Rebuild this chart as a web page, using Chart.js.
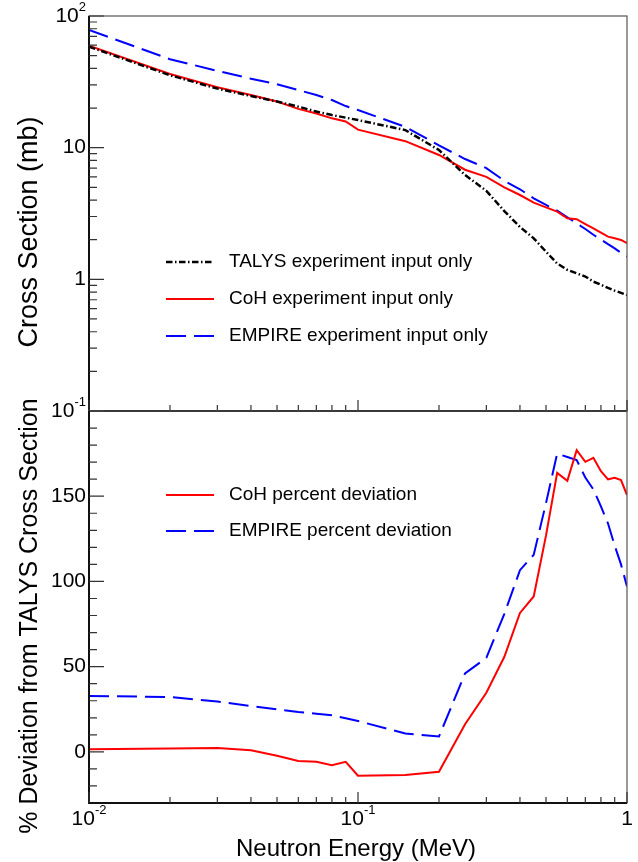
<!DOCTYPE html>
<html>
<head>
<meta charset="utf-8">
<script src="https://cdn.jsdelivr.net/npm/chart.js@4.4.1/dist/chart.umd.min.js"></script>
<style>
  body { margin: 0; background: #fff; }
  #wrap { position: relative; width: 638px; height: 862px; }
  #wrap canvas { position: absolute; left: 0; top: 0; }
</style>
</head>
<body>
<div id="wrap">
  <canvas id="xsec" width="638" height="862"></canvas>
  <canvas id="dev" width="638" height="862"></canvas>
</div>
<script>
// neutron energy grid (MeV)
const energy = [0.01, 0.02, 0.03, 0.04, 0.05, 0.06, 0.07, 0.08, 0.09, 0.1,
  0.15, 0.2, 0.25, 0.3, 0.35, 0.4, 0.45, 0.5, 0.55, 0.6,
  0.65, 0.7, 0.75, 0.8, 0.85, 0.9, 0.95, 1.0];

// cross sections (mb)
const talysXS = [58.5, 35.5, 28.1, 24.7, 22.4, 20.5, 18.8, 17.7, 16.9, 16.2,
  13.6, 9.6, 6.2, 4.7, 3.3, 2.5, 2.05, 1.62, 1.32, 1.18,
  1.11, 1.05, 0.96, 0.91, 0.86, 0.82, 0.79, 0.76];
const cohXS = [59.6, 36.3, 28.8, 25.1, 22.4, 19.7, 18.2, 16.7, 15.8, 13.7,
  11.2, 8.8, 6.8, 6.0, 5.0, 4.37, 3.82, 3.52, 3.27, 2.91,
  2.86, 2.63, 2.44, 2.26, 2.11, 2.05, 1.99, 1.88];
const empireXS = [78.3, 47.0, 38.3, 33.4, 30.3, 27.4, 25.1, 23.0, 20.7, 19.3,
  14.4, 10.4, 8.2, 7.0, 5.6, 4.83, 4.12, 3.67, 3.32, 2.96,
  2.66, 2.41, 2.18, 2.01, 1.85, 1.72, 1.59, 1.49];

// % deviation from TALYS
const cohDev = [1.6, 2.0, 2.2, 1.0, -2.3, -5.3, -5.8, -7.8, -5.8, -14.0,
  -13.6, -11.7, 16.2, 34.7, 55.8, 81.5, 91.2, 127, 163.7, 159.1,
  177.0, 170.2, 172.5, 164.7, 159.9, 160.8, 159.5, 150.7];
const empireDev = [32.8, 32.2, 29.5, 26.9, 25.0, 23.4, 22.4, 21.5, 19.7, 18.1,
  10.8, 9.0, 46.0, 55.2, 81, 106.6, 115.6, 146, 175, 173,
  171.2, 161, 154, 144, 134, 121, 110, 97];

// axis ticks and labels ([base, exponent])
const xTicks = [0.01, 0.1, 1];
const xTickLabels = [['10', '-2'], ['10', '-1'], ['1', '']];
const xsTicks = [0.1, 1, 10, 100];
const xsTickLabels = [['10', '-1'], ['1', ''], ['10', ''], ['10', '2']];
const devTicks = [0, 50, 100, 150];
const devTickLabels = [['0', ''], ['50', ''], ['100', ''], ['150', '']];

const FONT = '"Liberation Sans", Arial, Helvetica, sans-serif';

function pts(ys) {
  return energy.map((e, i) => ({ x: e, y: ys[i] }));
}

function powLabel(ctx, lab, x, y, align) {
  ctx.font = '21px ' + FONT;
  const wb = ctx.measureText(lab[0]).width;
  ctx.font = '13px ' + FONT;
  const we = lab[1] ? ctx.measureText(lab[1]).width : 0;
  const x0 = align === 'right' ? x - wb - we : x - (wb + we) / 2;
  ctx.textAlign = 'left';
  ctx.textBaseline = 'middle';
  ctx.font = '21px ' + FONT;
  ctx.fillText(lab[0], x0, y);
  if (lab[1]) {
    ctx.font = '13px ' + FONT;
    ctx.fillText(lab[1], x0 + wb, y - 9);
  }
}

function logMinors(lo, hi) {
  const out = [];
  for (let d = lo; d < hi * 0.999; d *= 10) {
    for (let m = 2; m <= 9; m++) out.push(d * m);
  }
  return out;
}

// ROOT-like frame: inward ticks, labels, titles and legend
const rootFrame = {
  id: 'rootFrame',
  afterDraw(chart, args, o) {
    const ctx = chart.ctx, a = chart.chartArea;
    const xs = chart.scales.x, ys = chart.scales.y;
    ctx.save();
    ctx.strokeStyle = '#555';
    ctx.lineWidth = 1.2;
    ctx.strokeRect(a.left, a.top, a.right - a.left, a.bottom - a.top);
    ctx.strokeStyle = '#111';
    ctx.lineWidth = 2;
    ctx.beginPath();
    ctx.moveTo(a.left, a.top);
    ctx.lineTo(a.left, a.bottom);
    ctx.lineTo(a.right, a.bottom);
    ctx.stroke();

    // x ticks, pointing up from the bottom edge
    ctx.strokeStyle = '#333';
    ctx.lineWidth = 1.2;
    ctx.beginPath();
    xTicks.forEach(v => {
      const px = xs.getPixelForValue(v);
      ctx.moveTo(px, a.bottom); ctx.lineTo(px, a.bottom - 11);
    });
    logMinors(0.01, 1).forEach(v => {
      const px = xs.getPixelForValue(v);
      ctx.moveTo(px, a.bottom); ctx.lineTo(px, a.bottom - 6);
    });
    // y ticks, pointing right from the left edge
    o.yTicks.forEach(v => {
      const py = ys.getPixelForValue(v);
      ctx.moveTo(a.left, py); ctx.lineTo(a.left + 15, py);
    });
    o.yMinors.forEach(v => {
      const py = ys.getPixelForValue(v);
      ctx.moveTo(a.left, py); ctx.lineTo(a.left + 8, py);
    });
    ctx.stroke();

    ctx.fillStyle = '#000';
    o.yTicks.forEach((v, i) => powLabel(ctx, o.yLabels[i], a.left - 3, ys.getPixelForValue(v), 'right'));
    if (o.showX) {
      xTicks.forEach((v, i) => powLabel(ctx, xTickLabels[i], xs.getPixelForValue(v), a.bottom + 16, 'center'));
      ctx.font = '24px ' + FONT;
      ctx.textAlign = 'center';
      ctx.textBaseline = 'middle';
      ctx.fillText('Neutron Energy (MeV)', 356, 849);
    }

    ctx.save();
    ctx.translate(30, o.yTitleY);
    ctx.rotate(-Math.PI / 2);
    ctx.font = o.yTitleSize + 'px ' + FONT;
    ctx.textAlign = 'center';
    ctx.textBaseline = 'middle';
    ctx.fillText(o.yTitle, 0, 0);
    ctx.restore();

    // legend
    chart.data.datasets.forEach((ds, i) => {
      const ly = o.legendY[i];
      ctx.save();
      ctx.strokeStyle = ds.borderColor;
      ctx.lineWidth = ds.borderWidth;
      ctx.setLineDash(ds.borderDash || []);
      ctx.beginPath();
      ctx.moveTo(166, ly); ctx.lineTo(214, ly);
      ctx.stroke();
      ctx.restore();
      ctx.font = '19px ' + FONT;
      ctx.textAlign = 'left';
      ctx.textBaseline = 'middle';
      ctx.fillStyle = '#000';
      ctx.fillText(ds.label, 229, ly);
    });
    ctx.restore();
  }
};

function baseOptions(pad, yScale, frame) {
  return {
    responsive: false,
    animation: false,
    layout: { padding: pad, autoPadding: false },
    elements: { point: { radius: 0 }, line: { tension: 0 } },
    scales: {
      x: { type: 'logarithmic', min: 0.01, max: 1, display: false },
      y: yScale
    },
    plugins: { legend: { display: false }, tooltip: { enabled: false }, rootFrame: frame }
  };
}

const blackLine = { borderColor: '#000000', borderWidth: 2.5, borderDash: [6.5, 2.5, 1.5, 2.5] };
const redLine = { borderColor: '#ff0000', borderWidth: 2 };
const blueLine = { borderColor: '#0000ff', borderWidth: 2, borderDash: [20, 8] };

// Top panel: cross sections
new Chart(document.getElementById('xsec').getContext('2d'), {
  type: 'line',
  data: {
    datasets: [
      Object.assign({ label: 'TALYS experiment input only', data: pts(talysXS) }, blackLine),
      Object.assign({ label: 'CoH experiment input only', data: pts(cohXS) }, redLine),
      Object.assign({ label: 'EMPIRE experiment input only', data: pts(empireXS) }, blueLine)
    ]
  },
  options: baseOptions({ left: 89, right: 11, top: 16, bottom: 451 },
    { type: 'logarithmic', min: 0.1, max: 100, display: false },
    { yTicks: xsTicks, yLabels: xsTickLabels, yMinors: logMinors(0.1, 100), showX: false,
      yTitle: 'Cross Section (mb)', yTitleSize: 27, yTitleY: 232, legendY: [262, 299, 336] }),
  plugins: [rootFrame]
});

// Bottom panel: percent deviation
new Chart(document.getElementById('dev').getContext('2d'), {
  type: 'line',
  data: {
    datasets: [
      Object.assign({ label: 'CoH percent deviation', data: pts(cohDev) }, redLine),
      Object.assign({ label: 'EMPIRE percent deviation', data: pts(empireDev) }, blueLine)
    ]
  },
  options: baseOptions({ left: 89, right: 11, top: 411, bottom: 59 },
    { type: 'linear', min: -30, max: 200, display: false },
    { yTicks: devTicks, yLabels: devTickLabels,
      yMinors: [-20, -10, 10, 20, 30, 40, 60, 70, 80, 90, 110, 120, 130, 140, 160, 170, 180, 190],
      showX: true, yTitle: '% Deviation from TALYS Cross Section', yTitleSize: 25, yTitleY: 616,
      legendY: [495, 531] }),
  plugins: [rootFrame]
});
</script>
</body>
</html>
